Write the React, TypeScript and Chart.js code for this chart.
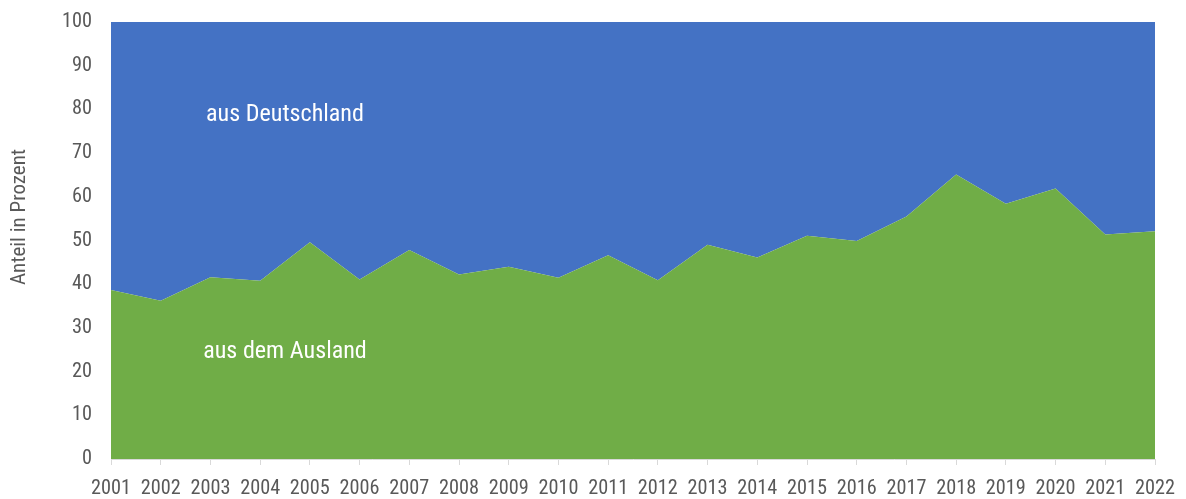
import React, { useEffect, useRef } from "react";
import { Chart, registerables } from "chart.js";

Chart.register(...registerables);

const years = ["2001","2002","2003","2004","2005","2006","2007","2008","2009","2010","2011","2012","2013","2014","2015","2016","2017","2018","2019","2020","2021","2022"];
const ausland = [38.7, 36.2, 41.6, 40.8, 49.6, 41.1, 47.8, 42.2, 44.0, 41.5, 46.6, 40.9, 49.0, 46.1, 51.1, 49.9, 55.5, 65.1, 58.4, 61.9, 51.4, 52.1];
const deutschland = [61.3, 63.8, 58.4, 59.2, 50.4, 58.9, 52.2, 57.8, 56.0, 58.5, 53.4, 59.1, 51.0, 53.9, 48.9, 50.1, 44.5, 34.9, 41.6, 38.1, 48.6, 47.9];
const yTicks = [0, 10, 20, 30, 40, 50, 60, 70, 80, 90, 100];

const FONT = "'Roboto Condensed', 'Noto Sans Condensed', 'Open Sans Condensed', 'Liberation Sans Narrow', 'DejaVu Sans Condensed', sans-serif";
const GREY = "#595959";

function fitSize(text: string, target: number, max: number): number {
  const c = document.createElement("canvas").getContext("2d");
  if (!c) return max;
  c.font = `100px ${FONT}`;
  const w = c.measureText(text).width;
  if (!w) return max;
  return Math.min(max, (target / w) * 100);
}

export default function App() {
  const ref = useRef<HTMLCanvasElement | null>(null);
  useEffect(() => {
    if (!ref.current) return;
    const tickSize = fitSize("2001", 40, 22);
    const annSize = fitSize("aus Deutschland", 158, 26);
    const titleSize = fitSize("Anteil in Prozent", 140, 21);
    const labelsPlugin = {
      id: "labelsPlugin",
      afterDraw(chart: any) {
        const ctx = chart.ctx;
        const xs = chart.scales.x;
        const ys = chart.scales.y;
        ctx.save();
        ctx.fillStyle = "#ffffff";
        ctx.font = `${annSize}px ${FONT}`;
        ctx.textAlign = "center";
        ctx.textBaseline = "middle";
        const cx = xs.left + ((xs.right - xs.left) * 3.5) / 21;
        ctx.fillText("aus Deutschland", cx, ys.getPixelForValue(78.7));
        ctx.fillText("aus dem Ausland", cx, ys.getPixelForValue(24.6));
        ctx.fillStyle = GREY;
        ctx.font = `${titleSize}px ${FONT}`;
        ctx.translate(20, 217);
        ctx.rotate(-Math.PI / 2);
        ctx.fillText("Anteil in Prozent", 0, 0);
        ctx.restore();
      },
    };
    const chart = new Chart(ref.current, {
      type: "line",
      data: {
        labels: years,
        datasets: [
          {
            label: "aus dem Ausland",
            data: ausland,
            backgroundColor: "#70AD47",
            borderColor: "#70AD47",
            borderWidth: 0,
            pointRadius: 0,
            fill: "origin",
            tension: 0,
          },
          {
            label: "aus Deutschland",
            data: deutschland,
            backgroundColor: "#4472C4",
            borderColor: "#4472C4",
            borderWidth: 0,
            pointRadius: 0,
            fill: "-1",
            tension: 0,
          },
        ],
      },
      options: {
        animation: false,
        responsive: true,
        maintainAspectRatio: false,
        layout: { autoPadding: false, padding: { left: 0, right: 31, top: 22, bottom: 0 } },
        plugins: { legend: { display: false }, tooltip: { enabled: false } },
        scales: {
          x: {
            type: "category",
            offset: false,
            grid: { display: true, drawOnChartArea: false, color: "#d9d9d9", tickLength: 6 },
            border: { display: true, color: "#d9d9d9", width: 1 },
            ticks: {
              autoSkip: false,
              maxRotation: 0,
              minRotation: 0,
              color: GREY,
              padding: 12,
              font: { family: FONT, size: tickSize },
            },
            afterFit(scale: any) {
              scale.height = 40;
              scale.paddingLeft = 0;
              scale.paddingRight = 0;
            },
          },
          y: {
            stacked: true,
            min: 0,
            max: 100,
            afterBuildTicks(scale: any) { scale.ticks = yTicks.map((v) => ({ value: v })); },
            grid: { display: false, drawTicks: false },
            border: { display: false },
            ticks: {
              color: GREY,
              padding: 19,
              font: { family: FONT, size: tickSize },
            },
            afterFit(scale: any) {
              scale.width = 111;
              scale.paddingTop = 0;
              scale.paddingBottom = 0;
            },
          },
        },
      },
      plugins: [labelsPlugin],
    });
    return () => chart.destroy();
  }, []);
  return (
    <div style={{ position: "absolute", left: 0, top: 0, width: 1186, height: 499, background: "#fff" }}>
      <canvas ref={ref} />
    </div>
  );
}
